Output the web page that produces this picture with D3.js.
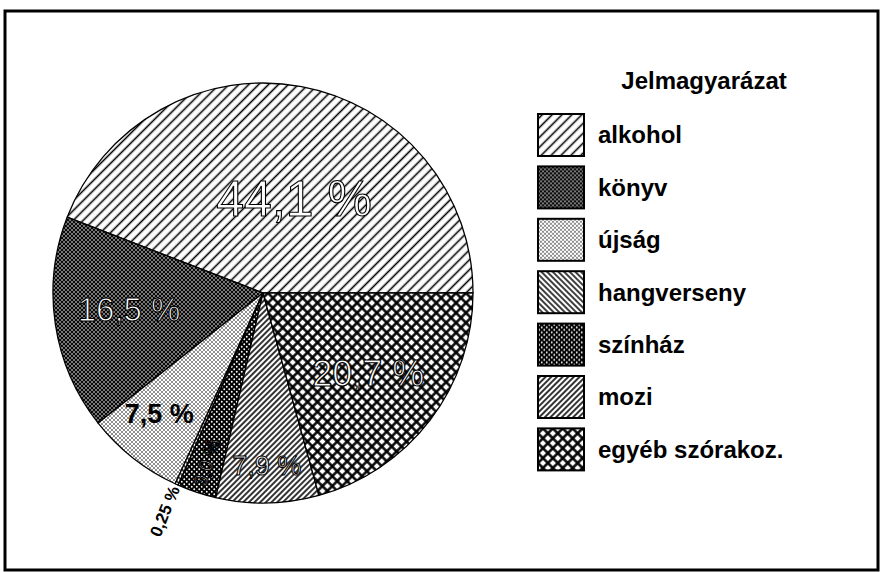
<!DOCTYPE html>
<html>
<head>
<meta charset="utf-8">
<script src="https://cdn.jsdelivr.net/npm/d3@7"></script>
<style>
  body { margin: 0; background: #fff; }
</style>
</head>
<body>
<div id="chart"></div>
<script>
// Données
const categories = ["alkohol", "könyv", "újság", "hangverseny", "színház", "mozi", "egyéb szórakoz."];
const shares = [44.1, 16.5, 7.5, 0.25, 3.0, 7.9, 20.7];
const valueLabels = ["44,1 %", "16,5 %", "7,5 %", "0,25 %", "3,0 %", "7,9 %", "20,7 %"];
const legendTitle = "Jelmagyarázat";

const data = categories.map((c, i) => ({ name: c, value: shares[i], label: valueLabels[i] }));

// Mise en page
const width = 882, height = 572;
const center = [263, 293];
const radius = 210;

// style de chaque étiquette : rayon relatif, décalage, taille, rotation, contour
const labelStyle = [
    { r: 0.47, dx: 13, dy: 3, size: 50, rot: 0, outline: true },
    { r: 0.64, dx: -1, dy: -4, size: 33, rot: 0, outline: true },
    { r: 0.76, dx: -5, dy: -5, size: 27, rot: 0, outline: false },
    { r: 1.14, dx: 0, dy: 0, size: 17, rot: -68, outline: false },
    { r: 0.85, dx: 0, dy: 0, size: 19, rot: -72, outline: true },
    { r: 0.82, dx: 0, dy: 0, size: 27, rot: 0, outline: true },
    { r: 0.63, dx: 0, dy: 0, size: 36, rot: 0, outline: true }
];

const svg = d3.select("#chart")
    .append("svg")
    .attr("width", width)
    .attr("height", height);

// Motifs de remplissage (hachures, trames)
const defs = svg.append("defs");

function hatch(id, spacing, angle, lineWidth, cross) {
    const p = defs.append("pattern")
        .attr("id", id)
        .attr("patternUnits", "userSpaceOnUse")
        .attr("width", spacing)
        .attr("height", spacing)
        .attr("patternTransform", `rotate(${angle})`);
    p.append("rect").attr("width", spacing).attr("height", spacing).attr("fill", "#fff");
    p.append("line")
        .attr("x1", spacing / 2).attr("y1", 0)
        .attr("x2", spacing / 2).attr("y2", spacing)
        .attr("stroke", "#000").attr("stroke-width", lineWidth);
    if (cross) {
        p.append("line")
            .attr("x1", 0).attr("y1", spacing / 2)
            .attr("x2", spacing).attr("y2", spacing / 2)
            .attr("stroke", "#000").attr("stroke-width", lineWidth);
    }
}

function dots(id, size, bg, fg, r) {
    const p = defs.append("pattern")
        .attr("id", id)
        .attr("patternUnits", "userSpaceOnUse")
        .attr("width", size)
        .attr("height", size);
    p.append("rect").attr("width", size).attr("height", size).attr("fill", bg);
    p.append("circle").attr("cx", size / 4).attr("cy", size / 4).attr("r", r).attr("fill", fg);
    p.append("circle").attr("cx", size * 3 / 4).attr("cy", size * 3 / 4).attr("r", r).attr("fill", fg);
}

hatch("p-alkohol", 7, 45, 1.6, false);
dots("p-konyv", 4, "#0a0a0a", "#fff", 0.8);
dots("p-ujsag", 4, "#fff", "#000", 0.8);
hatch("p-hang", 4, -45, 1.5, false);
dots("p-szinhaz", 5, "#000", "#fff", 0.95);
hatch("p-mozi", 4, 45, 1.6, false);
hatch("p-egyeb", 7, 45, 2.5, true);

const fills = ["p-alkohol", "p-konyv", "p-ujsag", "p-hang", "p-szinhaz", "p-mozi", "p-egyeb"];

// Cadre
svg.append("rect")
    .attr("x", 5)
    .attr("y", 11)
    .attr("width", 873)
    .attr("height", 559)
    .attr("fill", "none")
    .attr("stroke", "#000")
    .attr("stroke-width", 3);

// Camembert : départ à 3 heures, sens anti-horaire
const pie = d3.pie()
    .value(d => d.value)
    .sort(null)
    .startAngle(Math.PI / 2)
    .endAngle(Math.PI / 2 - 2 * Math.PI);

const arcs = pie(data);

const arc = d3.arc().innerRadius(0).outerRadius(radius);

const g = svg.append("g")
    .attr("transform", `translate(${center[0]},${center[1]})`);

g.selectAll("path.slice")
    .data(arcs)
    .enter()
    .append("path")
    .attr("class", "slice")
    .attr("d", arc)
    .attr("fill", (d, i) => `url(#${fills[i]})`)
    .attr("stroke", "#000")
    .attr("stroke-width", 1.3)
    .attr("stroke-linejoin", "round");

// Étiquettes des valeurs
g.selectAll("text.value")
    .data(arcs)
    .enter()
    .append("text")
    .attr("class", "value")
    .attr("transform", (d, i) => {
        const s = labelStyle[i];
        const la = d3.arc().innerRadius(radius * s.r).outerRadius(radius * s.r);
        const [x, y] = la.centroid(d);
        return `translate(${x + s.dx},${y + s.dy}) rotate(${s.rot})`;
    })
    .attr("text-anchor", "middle")
    .attr("dy", "0.35em")
    .style("font-family", "'Liberation Sans', Arial, sans-serif")
    .style("font-size", (d, i) => labelStyle[i].size + "px")
    .style("font-weight", (d, i) => labelStyle[i].outline ? "normal" : "bold")
    .style("fill", (d, i) => labelStyle[i].outline ? "#fff" : "#000")
    .style("stroke", (d, i) => labelStyle[i].outline ? "#000" : "none")
    .style("stroke-width", 1.1)
    .text(d => d.data.label);

// Légende
const legend = svg.append("g")
    .attr("transform", "translate(538,114)");

legend.append("text")
    .attr("x", 166)
    .attr("y", -25)
    .attr("text-anchor", "middle")
    .style("font-family", "'Liberation Sans', Arial, sans-serif")
    .style("font-size", "24px")
    .style("font-weight", "bold")
    .text(legendTitle);

const item = legend.selectAll("g.item")
    .data(data)
    .enter()
    .append("g")
    .attr("class", "item")
    .attr("transform", (d, i) => `translate(0,${i * 52.4})`);

item.append("rect")
    .attr("width", 46)
    .attr("height", 42)
    .attr("fill", (d, i) => `url(#${fills[i]})`)
    .attr("stroke", "#000")
    .attr("stroke-width", 2);

item.append("text")
    .attr("x", 60)
    .attr("y", 21)
    .attr("dy", "0.35em")
    .style("font-family", "'Liberation Sans', Arial, sans-serif")
    .style("font-size", "24px")
    .style("font-weight", "bold")
    .text(d => d.name);
</script>
</body>
</html>
